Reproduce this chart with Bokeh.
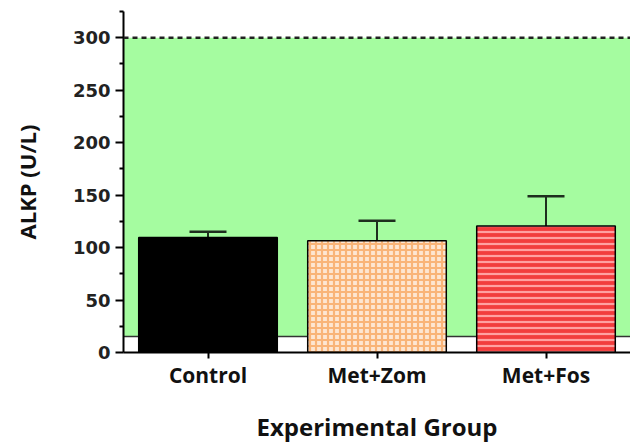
from bokeh.plotting import figure
from bokeh.models import ColumnDataSource, FactorRange, BoxAnnotation, Span, Whisker, TeeHead, Range1d, FixedTicker
from bokeh.embed import file_html
from bokeh.resources import INLINE

groups = ["Control", "Met+Zom", "Met+Fos"]
means = [109.5, 106.5, 120.5]
errors = [5.5, 19.0, 28.5]
ref_low = 15.2
ref_high = 300

tops = [m + e for m, e in zip(means, errors)]

p = figure(x_range=FactorRange(*groups, range_padding=0), y_range=Range1d(0, 325),
           frame_width=507, frame_height=341, output_backend="svg", toolbar_location=None,
           min_border_left=123, min_border_right=0, min_border_top=11, min_border_bottom=91)
p.outline_line_color = None
p.grid.visible = False
p.background_fill_color = "white"

band = BoxAnnotation(bottom=ref_low, top=ref_high, fill_color="#a5fca0", fill_alpha=1.0,
                     line_color=None, level="underlay")
p.add_layout(band)
low_line = Span(location=ref_low, dimension="width", line_color="#333333", line_width=1.5, level="underlay")
p.add_layout(low_line)
high_line = Span(location=ref_high, dimension="width", line_color="#222222", line_width=2.5,
                 line_dash="5 4")
p.add_layout(high_line)

src = ColumnDataSource(dict(x=groups, top=means, upper=tops,
                            fill=["#000000", "#fde6d2", "#f23c3c"],
                            hatch=[" ", "cross", "horizontal_line"],
                            hcol=["#000000", "#f9b478", "#ffa0a0"]))

p.vbar(x="x", top="top", width=0.82, source=src, fill_color="fill", line_color="black",
       line_width=1.5, hatch_pattern="hatch", hatch_color="hcol", hatch_scale=6, hatch_weight=2.2)

w = Whisker(source=src, base="x", lower="top", upper="upper", line_color="#1e2e1e", line_width=2,
            lower_head=None, upper_head=TeeHead(size=37, line_color="#1e2e1e", line_width=2.5))
p.add_layout(w)

p.yaxis.ticker = FixedTicker(ticks=[0, 50, 100, 150, 200, 250, 300],
                             minor_ticks=[25, 75, 125, 175, 225, 275, 325])
p.yaxis.axis_label = "ALKP (U/L)"
p.yaxis.axis_label_text_font = "Open Sans"
p.yaxis.axis_label_text_font_style = "bold"
p.yaxis.axis_label_text_font_size = "22px"
p.yaxis.axis_label_text_color = "#111111"
p.yaxis.axis_label_standoff = 28
p.yaxis.major_label_text_font = "DejaVu Sans"
p.yaxis.major_label_text_font_style = "bold"
p.yaxis.major_label_text_font_size = "18px"
p.yaxis.major_label_text_color = "#222222"
p.yaxis.major_label_standoff = 5
p.yaxis.major_tick_out = 8
p.yaxis.major_tick_in = 0
p.yaxis.minor_tick_out = 4
p.yaxis.minor_tick_in = 0
p.yaxis.axis_line_width = 2
p.yaxis.major_tick_line_width = 2
p.yaxis.minor_tick_line_width = 2

p.xaxis.axis_label = "Experimental Group"
p.xaxis.axis_label_text_font = "Open Sans"
p.xaxis.axis_label_text_font_style = "bold"
p.xaxis.axis_label_text_font_size = "24px"
p.xaxis.axis_label_text_color = "#111111"
p.xaxis.axis_label_standoff = 18
p.xaxis.major_label_text_font = "Open Sans"
p.xaxis.major_label_text_font_style = "bold"
p.xaxis.major_label_text_font_size = "21px"
p.xaxis.major_label_text_color = "#111111"
p.xaxis.major_label_standoff = 2
p.xaxis.major_tick_out = 6
p.xaxis.major_tick_in = 0
p.xaxis.minor_tick_line_color = None
p.xaxis.axis_line_width = 2
p.xaxis.major_tick_line_width = 2

open("out.html", "w").write(file_html(p, INLINE))
